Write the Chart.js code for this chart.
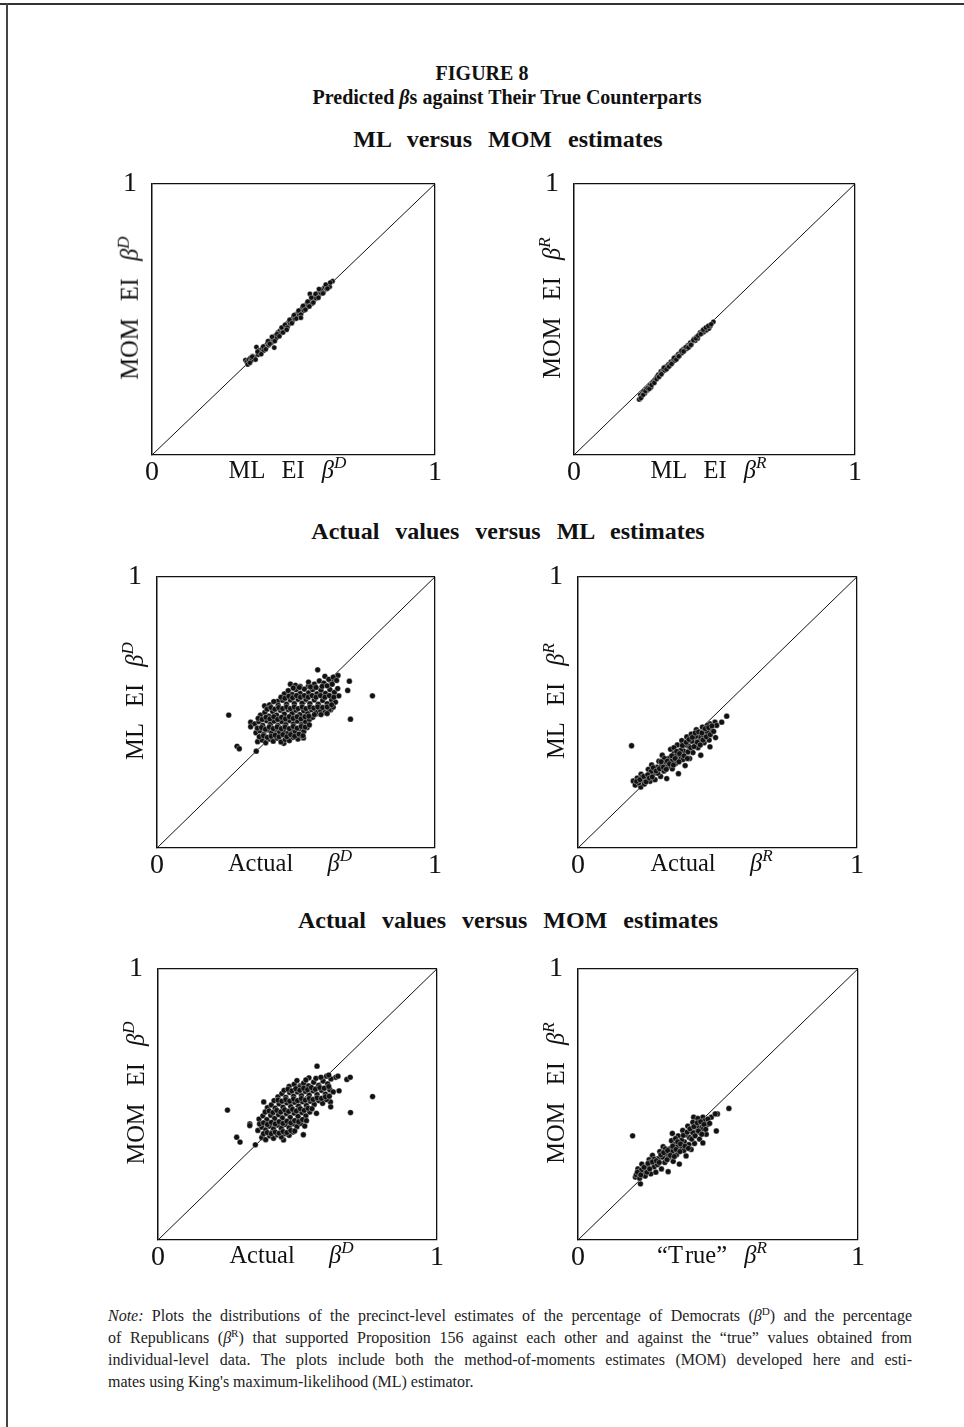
<!DOCTYPE html>
<html>
<head>
<meta charset="utf-8">
<script src="https://cdn.jsdelivr.net/npm/chart.js@4.4.0/dist/chart.umd.min.js"></script>
<style>
body { margin:0; background:#fff; width:964px; height:1427px; position:relative; overflow:hidden;
       font-family:'Liberation Serif', serif; color:#111; }
.frameTop { position:absolute; left:0; top:3px; width:964px; height:2px; background:#333; }
.frameLeft { position:absolute; left:6px; top:3px; width:2px; height:1424px; background:#444; }
.t { position:absolute; left:0; width:964px; text-align:center; font-weight:bold; white-space:nowrap; }
.fig { top:62px; font-size:20px; }
.sub { top:86px; font-size:20px; left:25px; }
.row { font-size:24px; word-spacing:10px; left:26px; }
.panel { position:absolute; }
.xt, .yt { position:absolute; font-size:24.5px; white-space:nowrap; word-spacing:11px; line-height:1; }
.yt { transform:translate(-50%,-50%) rotate(-90deg); }
.xt { transform:translate(-50%,-50%); }
sup { font-size:70%; font-style:italic; vertical-align:0.55em; line-height:0; }
.note { position:absolute; left:108px; width:804px; font-size:16px; color:#222;
        text-align:justify; text-align-last:justify; white-space:nowrap; }
.note.last { text-align-last:left; }
</style>
</head>
<body>
<div class="frameTop"></div>
<div class="frameLeft"></div>

<div class="t fig">FIGURE 8</div>
<div class="t sub">Predicted <i>β</i>s against Their True Counterparts</div>
<div class="t row" style="top:126px">ML versus MOM estimates</div>
<div class="t row" style="top:518px">Actual values versus ML estimates</div>
<div class="t row" style="top:907px">Actual values versus MOM estimates</div>

<div id="panels"></div>

<div class="note" style="top:1307px"><i>Note:</i> Plots the distributions of the precinct-level estimates of the percentage of Democrats (<i>β</i><sup style="font-style:normal">D</sup>) and the percentage</div>
<div class="note" style="top:1329px">of Republicans (<i>β</i><sup style="font-style:normal">R</sup>) that supported Proposition 156 against each other and against the “true” values obtained from</div>
<div class="note" style="top:1351px">individual-level data. The plots include both the method-of-moments estimates (MOM) developed here and esti-</div>
<div class="note last" style="top:1373px">mates using King's maximum-likelihood (ML) estimator.</div>

<script>
// ================= DATA =================
const axisTicks = [0, 1];
const diagonal = [[0, 0], [1, 1]];

// ML EI beta-D (x) vs MOM EI beta-D (y)
const mlVsMomDem = [
  [0.330,0.350],[0.335,0.343],[0.342,0.352],[0.348,0.358],[0.352,0.349],[0.356,0.365],[0.362,0.360],
  [0.369,0.398],[0.375,0.370],[0.380,0.386],[0.384,0.378],[0.390,0.392],[0.395,0.385],[0.398,0.402],
  [0.404,0.398],[0.408,0.412],[0.412,0.405],[0.418,0.420],[0.422,0.414],[0.426,0.430],[0.430,0.424],
  [0.432,0.396],[0.436,0.440],[0.440,0.432],[0.445,0.452],[0.448,0.444],[0.452,0.458],[0.456,0.450],
  [0.460,0.466],[0.465,0.460],[0.468,0.474],[0.472,0.467],[0.476,0.484],[0.480,0.476],[0.484,0.492],
  [0.488,0.485],[0.492,0.500],[0.496,0.493],[0.500,0.510],[0.504,0.502],[0.508,0.518],[0.512,0.510],
  [0.516,0.526],[0.520,0.517],[0.524,0.534],[0.528,0.525],[0.532,0.544],[0.536,0.533],[0.540,0.550],
  [0.545,0.542],[0.548,0.560],[0.552,0.550],[0.558,0.594],[0.560,0.566],[0.565,0.558],[0.568,0.578],
  [0.572,0.570],[0.576,0.586],[0.580,0.578],[0.585,0.596],[0.590,0.588],[0.593,0.600],[0.598,0.596],
  [0.602,0.612],[0.606,0.600],[0.610,0.618],[0.617,0.612],[0.622,0.626],[0.628,0.620],[0.638,0.641],
  [0.338,0.334],[0.346,0.340],[0.354,0.362],[0.366,0.352],[0.373,0.381],[0.386,0.372],[0.393,0.400],
  [0.402,0.390],[0.410,0.420],[0.416,0.410],[0.424,0.436],[0.434,0.420],[0.442,0.446],[0.450,0.438],
  [0.458,0.470],[0.463,0.452],[0.470,0.480],[0.478,0.470],[0.486,0.498],[0.494,0.486],[0.502,0.516],
  [0.510,0.503],[0.518,0.532],[0.526,0.518],[0.534,0.550],[0.542,0.536],[0.550,0.566],[0.556,0.548],
  [0.563,0.580],[0.570,0.562],[0.578,0.594],[0.588,0.580],[0.596,0.610],[0.604,0.596],[0.614,0.628],
  [0.620,0.614],[0.630,0.636],[0.526,0.506],[0.476,0.462],[0.590,0.612]
];

// ML EI beta-R (x) vs MOM EI beta-R (y)
const mlVsMomRep = [
  [0.232,0.205],[0.236,0.222],[0.240,0.214],[0.244,0.230],[0.248,0.236],[0.252,0.228],[0.256,0.244],
  [0.260,0.238],[0.265,0.252],[0.270,0.258],[0.274,0.250],[0.278,0.266],[0.283,0.272],[0.288,0.278],
  [0.292,0.284],[0.296,0.290],[0.300,0.296],[0.305,0.292],[0.309,0.308],[0.314,0.304],[0.318,0.316],
  [0.322,0.312],[0.327,0.326],[0.331,0.320],[0.336,0.334],[0.340,0.330],[0.345,0.344],[0.350,0.340],
  [0.354,0.352],[0.358,0.348],[0.362,0.362],[0.367,0.358],[0.371,0.372],[0.375,0.366],[0.380,0.378],
  [0.384,0.376],[0.388,0.390],[0.392,0.384],[0.396,0.396],[0.401,0.392],[0.405,0.404],[0.410,0.400],
  [0.414,0.414],[0.418,0.408],[0.423,0.420],[0.427,0.428],[0.432,0.422],[0.436,0.436],[0.440,0.430],
  [0.445,0.444],[0.449,0.452],[0.454,0.448],[0.458,0.458],[0.462,0.454],[0.467,0.464],[0.471,0.460],
  [0.476,0.472],[0.480,0.466],[0.485,0.476],[0.496,0.491],
  [0.238,0.210],[0.246,0.222],[0.254,0.236],[0.262,0.246],[0.268,0.244],[0.276,0.258],[0.286,0.266],
  [0.294,0.280],[0.302,0.288],[0.311,0.298],[0.320,0.322],[0.329,0.316],[0.338,0.326],[0.347,0.336],
  [0.356,0.358],[0.364,0.352],[0.373,0.364],[0.382,0.384],[0.390,0.382],[0.399,0.398],[0.407,0.396],
  [0.416,0.406],[0.425,0.424],[0.434,0.430],[0.442,0.440],[0.451,0.446],[0.460,0.462],[0.469,0.470],
  [0.478,0.476],[0.488,0.482]
];

// Actual beta-D (x) vs ML EI beta-D (y)
const actualVsMlDem = [
  [0.258,0.490],[0.288,0.375],[0.296,0.366],[0.357,0.357],[0.337,0.464],[0.337,0.447],[0.387,0.524],
  [0.434,0.541],[0.456,0.386],[0.527,0.406],[0.578,0.657],[0.604,0.633],[0.651,0.636],[0.692,0.615],
  [0.686,0.581],[0.654,0.561],[0.775,0.561],[0.696,0.475],[0.625,0.510],[0.627,0.613],[0.574,0.495],
  [0.515,0.596],[0.544,0.596],
  [0.362,0.392],[0.378,0.398],[0.391,0.388],[0.404,0.402],[0.418,0.394],[0.432,0.405],[0.446,0.391],
  [0.461,0.400],[0.476,0.396],[0.490,0.408],[0.507,0.402],[0.518,0.414],
  [0.356,0.425],[0.370,0.432],[0.384,0.420],[0.398,0.436],[0.412,0.424],[0.426,0.438],[0.440,0.426],
  [0.455,0.434],[0.469,0.422],[0.483,0.437],[0.497,0.428],[0.512,0.440],[0.528,0.430],[0.540,0.444],
  [0.352,0.458],[0.366,0.466],[0.380,0.452],[0.394,0.470],[0.408,0.456],[0.421,0.468],[0.435,0.452],
  [0.449,0.466],[0.463,0.455],[0.477,0.470],[0.491,0.458],[0.505,0.468],[0.520,0.455],[0.534,0.466],
  [0.548,0.474],[0.560,0.482],
  [0.372,0.490],[0.388,0.500],[0.402,0.486],[0.416,0.504],[0.430,0.490],[0.444,0.508],[0.458,0.494],
  [0.472,0.510],[0.486,0.496],[0.500,0.508],[0.514,0.492],[0.528,0.506],[0.542,0.496],[0.556,0.510],
  [0.572,0.500],[0.588,0.508],[0.604,0.500],[0.620,0.510],[0.634,0.520],
  [0.405,0.528],[0.420,0.540],[0.436,0.526],[0.452,0.545],[0.466,0.530],[0.480,0.546],[0.494,0.532],
  [0.508,0.548],[0.522,0.534],[0.536,0.548],[0.550,0.532],[0.566,0.546],[0.580,0.530],[0.596,0.544],
  [0.612,0.532],[0.628,0.546],[0.642,0.538],
  [0.458,0.568],[0.472,0.580],[0.486,0.566],[0.500,0.584],[0.515,0.570],[0.530,0.586],[0.545,0.572],
  [0.560,0.584],[0.575,0.568],[0.590,0.582],[0.606,0.570],[0.622,0.584],[0.638,0.574],[0.650,0.588],
  [0.480,0.604],[0.498,0.600],[0.545,0.612],[0.566,0.604],[0.584,0.616],[0.600,0.608],[0.618,0.622],
  [0.634,0.630],[0.646,0.618],
  [0.368,0.410],[0.383,0.414],[0.397,0.408],[0.411,0.412],[0.425,0.416],[0.439,0.410],[0.453,0.418],
  [0.467,0.410],[0.481,0.418],[0.495,0.412],[0.511,0.420],[0.525,0.414],
  [0.361,0.442],[0.376,0.444],[0.390,0.438],[0.404,0.446],[0.418,0.440],[0.432,0.446],[0.447,0.440],
  [0.461,0.446],[0.476,0.440],[0.490,0.448],[0.504,0.442],[0.519,0.448],[0.533,0.446],[0.548,0.454],
  [0.364,0.478],[0.378,0.474],[0.392,0.482],[0.406,0.476],[0.420,0.484],[0.434,0.474],[0.448,0.482],
  [0.462,0.476],[0.476,0.484],[0.490,0.478],[0.504,0.484],[0.518,0.476],[0.532,0.484],[0.546,0.486],
  [0.566,0.492],[0.590,0.492],[0.612,0.496],
  [0.396,0.512],[0.410,0.518],[0.424,0.512],[0.438,0.518],[0.452,0.514],[0.466,0.520],[0.480,0.514],
  [0.494,0.520],[0.508,0.514],[0.522,0.520],[0.536,0.514],[0.550,0.520],[0.564,0.516],[0.578,0.520],
  [0.596,0.518],[0.612,0.520],[0.628,0.528],
  [0.446,0.556],[0.460,0.552],[0.474,0.560],[0.488,0.554],[0.502,0.562],[0.516,0.556],[0.530,0.562],
  [0.544,0.556],[0.558,0.562],[0.572,0.556],[0.588,0.562],[0.604,0.556],[0.620,0.562],[0.636,0.556],
  [0.490,0.590],[0.512,0.592],[0.552,0.594],[0.572,0.592],[0.594,0.596],[0.612,0.598],[0.630,0.604]
];

// Actual beta-R (x) vs ML EI beta-R (y)
const actualVsMlRep = [
  [0.192,0.377],[0.533,0.486],[0.493,0.407],[0.473,0.373],[0.198,0.247],[0.225,0.225],[0.515,0.464],
  [0.491,0.464],[0.497,0.452],[0.473,0.458],
  [0.205,0.232],[0.212,0.258],[0.218,0.240],[0.226,0.272],[0.232,0.250],[0.238,0.236],
  [0.246,0.262],[0.252,0.290],[0.258,0.246],[0.264,0.306],[0.270,0.274],[0.276,0.252],
  [0.284,0.298],[0.290,0.320],[0.296,0.264],[0.302,0.342],[0.308,0.284],[0.314,0.310],[0.318,0.256],
  [0.326,0.330],[0.332,0.364],[0.338,0.292],[0.344,0.348],[0.350,0.312],[0.356,0.380],[0.360,0.274],
  [0.366,0.336],[0.372,0.396],[0.378,0.358],[0.384,0.304],[0.390,0.410],[0.396,0.376],[0.400,0.330],
  [0.406,0.420],[0.412,0.352],[0.418,0.392],[0.424,0.436],[0.430,0.370],[0.436,0.410],[0.440,0.342],
  [0.446,0.446],[0.452,0.388],[0.458,0.424],[0.464,0.452],[0.470,0.398],[0.476,0.436],
  [0.230,0.262],[0.262,0.282],[0.286,0.276],[0.300,0.304],[0.322,0.300],[0.334,0.320],[0.352,0.340],
  [0.368,0.360],[0.382,0.380],[0.394,0.354],[0.408,0.394],[0.422,0.412],[0.434,0.392],[0.450,0.414],
  [0.462,0.430],[0.310,0.330],[0.344,0.370],[0.376,0.326],[0.270,0.296],[0.244,0.244],
  [0.210,0.246],[0.222,0.252],[0.236,0.264],[0.250,0.270],[0.256,0.258],[0.266,0.262],[0.280,0.284],
  [0.292,0.292],[0.298,0.318],[0.306,0.298],[0.316,0.290],[0.320,0.320],[0.328,0.310],[0.336,0.340],
  [0.342,0.306],[0.348,0.330],[0.354,0.356],[0.362,0.318],[0.364,0.348],[0.374,0.378],[0.380,0.340],
  [0.388,0.390],[0.392,0.330],[0.398,0.400],[0.404,0.370],[0.410,0.408],[0.416,0.374],[0.420,0.424],
  [0.428,0.390],[0.432,0.428],[0.438,0.380],[0.444,0.424],[0.448,0.398],[0.456,0.440],[0.460,0.410],
  [0.468,0.444],[0.474,0.418],[0.480,0.450],[0.486,0.430]
];

// Actual beta-D (x) vs MOM EI beta-D (y)
const actualVsMomDem = [
  [0.249,0.479],[0.282,0.379],[0.294,0.361],[0.329,0.428],[0.329,0.422],[0.349,0.351],[0.379,0.509],
  [0.450,0.369],[0.521,0.388],[0.570,0.641],[0.541,0.598],[0.637,0.600],[0.645,0.604],[0.677,0.592],
  [0.689,0.600],[0.649,0.550],[0.769,0.529],[0.690,0.470],[0.618,0.509],[0.619,0.491],[0.568,0.467],
  [0.509,0.568],[0.538,0.568],[0.604,0.604],
  [0.372,0.378],[0.386,0.370],[0.400,0.384],[0.414,0.375],[0.428,0.388],[0.442,0.380],[0.456,0.392],
  [0.470,0.386],[0.484,0.398],
  [0.358,0.404],[0.372,0.416],[0.386,0.406],[0.400,0.420],[0.414,0.410],[0.428,0.424],[0.442,0.412],
  [0.456,0.426],[0.470,0.414],[0.484,0.428],[0.498,0.418],[0.512,0.430],[0.526,0.420],
  [0.362,0.446],[0.376,0.458],[0.390,0.444],[0.404,0.460],[0.418,0.448],[0.432,0.462],[0.446,0.450],
  [0.460,0.466],[0.474,0.452],[0.488,0.468],[0.502,0.456],[0.516,0.470],[0.530,0.458],[0.544,0.472],
  [0.392,0.488],[0.406,0.498],[0.420,0.486],[0.434,0.502],[0.448,0.490],[0.462,0.506],[0.476,0.492],
  [0.490,0.508],[0.504,0.494],[0.518,0.510],[0.532,0.496],[0.546,0.512],[0.560,0.500],[0.576,0.514],
  [0.590,0.504],[0.604,0.518],
  [0.430,0.528],[0.444,0.540],[0.458,0.526],[0.472,0.544],[0.486,0.530],[0.500,0.546],[0.514,0.532],
  [0.528,0.548],[0.542,0.534],[0.556,0.550],[0.570,0.536],[0.586,0.552],[0.600,0.538],[0.616,0.554],
  [0.628,0.546],
  [0.470,0.566],[0.488,0.574],[0.506,0.562],[0.522,0.578],[0.540,0.568],[0.558,0.582],[0.576,0.570],
  [0.592,0.586],[0.608,0.576],[0.620,0.594],[0.612,0.608],
  [0.378,0.392],[0.392,0.396],[0.406,0.392],[0.420,0.398],[0.434,0.394],[0.448,0.400],[0.462,0.396],
  [0.476,0.404],[0.490,0.402],
  [0.364,0.428],[0.378,0.432],[0.392,0.426],[0.406,0.434],[0.420,0.428],[0.434,0.436],[0.448,0.430],
  [0.462,0.438],[0.476,0.432],[0.490,0.440],[0.504,0.436],[0.518,0.444],[0.532,0.440],
  [0.384,0.472],[0.398,0.476],[0.412,0.470],[0.426,0.478],[0.440,0.472],[0.454,0.480],[0.468,0.474],
  [0.482,0.482],[0.496,0.476],[0.510,0.484],[0.524,0.478],[0.538,0.486],[0.552,0.484],
  [0.416,0.514],[0.430,0.516],[0.444,0.512],[0.458,0.518],[0.472,0.512],[0.486,0.520],[0.500,0.514],
  [0.514,0.522],[0.528,0.516],[0.542,0.522],[0.556,0.518],[0.570,0.524],[0.586,0.522],[0.600,0.528],
  [0.614,0.530],
  [0.452,0.552],[0.466,0.556],[0.480,0.550],[0.494,0.558],[0.508,0.552],[0.522,0.560],[0.536,0.554],
  [0.550,0.562],[0.564,0.556],[0.580,0.562],[0.596,0.560],[0.612,0.566],
  [0.498,0.588],[0.530,0.590],[0.566,0.596],[0.584,0.600]
];

// "True" beta-R (x) vs MOM EI beta-R (y)
const actualVsMomRep = [
  [0.195,0.384],[0.539,0.485],[0.498,0.465],[0.494,0.402],[0.337,0.393],[0.205,0.232],[0.223,0.207],
  [0.476,0.453],[0.490,0.465],[0.446,0.453],[0.413,0.453],
  [0.208,0.240],[0.214,0.262],[0.220,0.228],[0.228,0.280],[0.234,0.252],[0.240,0.236],
  [0.248,0.268],[0.254,0.296],[0.260,0.244],[0.266,0.312],[0.272,0.270],[0.278,0.250],
  [0.286,0.300],[0.292,0.326],[0.298,0.262],[0.304,0.344],[0.310,0.286],[0.316,0.316],[0.322,0.252],
  [0.328,0.336],[0.334,0.366],[0.340,0.290],[0.346,0.352],[0.352,0.314],[0.358,0.384],[0.362,0.280],
  [0.368,0.340],[0.374,0.404],[0.380,0.362],[0.386,0.310],[0.392,0.420],[0.398,0.378],[0.404,0.334],
  [0.410,0.434],[0.416,0.356],[0.422,0.398],[0.428,0.448],[0.434,0.372],[0.440,0.414],[0.446,0.358],
  [0.452,0.440],[0.458,0.390],[0.462,0.426],
  [0.226,0.258],[0.258,0.286],[0.284,0.278],[0.302,0.306],[0.324,0.304],[0.336,0.326],[0.354,0.344],
  [0.370,0.368],[0.384,0.388],[0.396,0.352],[0.410,0.396],[0.424,0.420],[0.436,0.396],[0.448,0.410],
  [0.312,0.336],[0.348,0.374],[0.378,0.330],[0.272,0.298],[0.246,0.250],
  [0.212,0.250],[0.224,0.240],[0.236,0.268],[0.250,0.282],[0.256,0.262],[0.266,0.288],[0.280,0.292],
  [0.290,0.286],[0.296,0.314],[0.306,0.322],[0.318,0.296],[0.320,0.330],[0.330,0.312],[0.338,0.346],
  [0.344,0.308],[0.350,0.334],[0.356,0.362],[0.364,0.326],[0.366,0.354],[0.376,0.386],[0.382,0.346],
  [0.390,0.398],[0.394,0.338],[0.400,0.410],[0.406,0.372],[0.414,0.418],[0.418,0.384],[0.426,0.432],
  [0.430,0.402],[0.438,0.436],[0.442,0.390],[0.450,0.426],[0.456,0.408],[0.464,0.446],[0.470,0.430]
];

// ================= PANELS =================
const B = '<i>β</i>';
const panels = [
  { data: mlVsMomDem,     box: [152, 172, 283, 283], r: 2.6, xt: 'ML EI ' + B + '<sup>D</sup>',  yt: 'MOM EI ' + B + '<sup>D</sup>' },
  { data: mlVsMomRep,     box: [574, 172, 281, 283], r: 2.6, xt: 'ML EI ' + B + '<sup>R</sup>',  yt: 'MOM EI ' + B + '<sup>R</sup>' },
  { data: actualVsMlDem,  box: [157, 565, 278, 283], r: 2.9, xt: 'Actual&nbsp; ' + B + '<sup>D</sup>', yt: 'ML EI ' + B + '<sup>D</sup>' },
  { data: actualVsMlRep,  box: [578, 565, 279, 283], r: 2.9, xt: 'Actual&nbsp; ' + B + '<sup>R</sup>', yt: 'ML EI ' + B + '<sup>R</sup>' },
  { data: actualVsMomDem, box: [158, 957, 279, 283], r: 2.9, xt: 'Actual&nbsp; ' + B + '<sup>D</sup>', yt: 'MOM EI ' + B + '<sup>D</sup>' },
  { data: actualVsMomRep, box: [578, 957, 280, 283], r: 2.9, xt: '“T&#8202;rue” ' + B + '<sup>R</sup>', yt: 'MOM EI ' + B + '<sup>R</sup>' }
];

const YW = 50, XH = 40, PT = 20, PR = 20;
const holder = document.getElementById('panels');

panels.forEach(p => {
  const [bx, by, bw, bh] = p.box;

  const wrap = document.createElement('div');
  wrap.className = 'panel';
  wrap.style.left = (bx - YW) + 'px';
  wrap.style.top = (by - PT) + 'px';
  const cv = document.createElement('canvas');
  cv.width = bw + YW + PR;
  cv.height = bh + PT + XH;
  wrap.appendChild(cv);
  holder.appendChild(wrap);

  // axis titles (HTML so the superscripts render)
  const xt = document.createElement('div');
  xt.className = 'xt';
  xt.innerHTML = p.xt;
  xt.style.left = (bx + bw / 2 - 6) + 'px';
  xt.style.top = (by + bh + 15) + 'px';
  document.body.appendChild(xt);

  const yt = document.createElement('div');
  yt.className = 'yt';
  yt.innerHTML = p.yt;
  yt.style.left = (bx - 22) + 'px';
  yt.style.top = (by + bh / 2 - 6) + 'px';
  document.body.appendChild(yt);

  const tickFont = { family: "'Liberation Serif', serif", size: 28 };
  const edge = { color: '#111', lineWidth: 1.3, drawTicks: false };

  new Chart(cv, {
    type: 'scatter',
    data: {
      datasets: [
        {
          data: p.data.map(d => ({ x: d[0], y: d[1] })),
          pointRadius: p.r,
          backgroundColor: '#111',
          borderColor: 'rgba(255,255,255,0.5)',
          borderWidth: 0.7
        },
        {
          data: diagonal.map(d => ({ x: d[0], y: d[1] })),
          showLine: true,
          pointRadius: 0,
          borderColor: '#111',
          borderWidth: 1
        }
      ]
    },
    options: {
      responsive: false,
      animation: false,
      events: [],
      layout: { padding: { top: PT, right: PR, left: 0, bottom: 0 } },
      plugins: { legend: { display: false }, tooltip: { enabled: false } },
      scales: {
        x: {
          min: 0, max: 1,
          afterBuildTicks: a => { a.ticks = axisTicks.map(v => ({ value: v })); },
          afterFit: s => { s.height = XH; },
          ticks: { font: tickFont, color: '#111', padding: 1, maxRotation: 0 },
          grid: edge,
          border: { display: true, color: '#111', width: 1.3 }
        },
        y: {
          min: 0, max: 1,
          afterBuildTicks: a => { a.ticks = axisTicks.slice(1).map(v => ({ value: v })); },
          afterFit: s => { s.width = YW; },
          ticks: { font: tickFont, color: '#111', padding: 15 },
          grid: edge,
          border: { display: true, color: '#111', width: 1.3 }
        }
      }
    }
  });
});
</script>
</body>
</html>
